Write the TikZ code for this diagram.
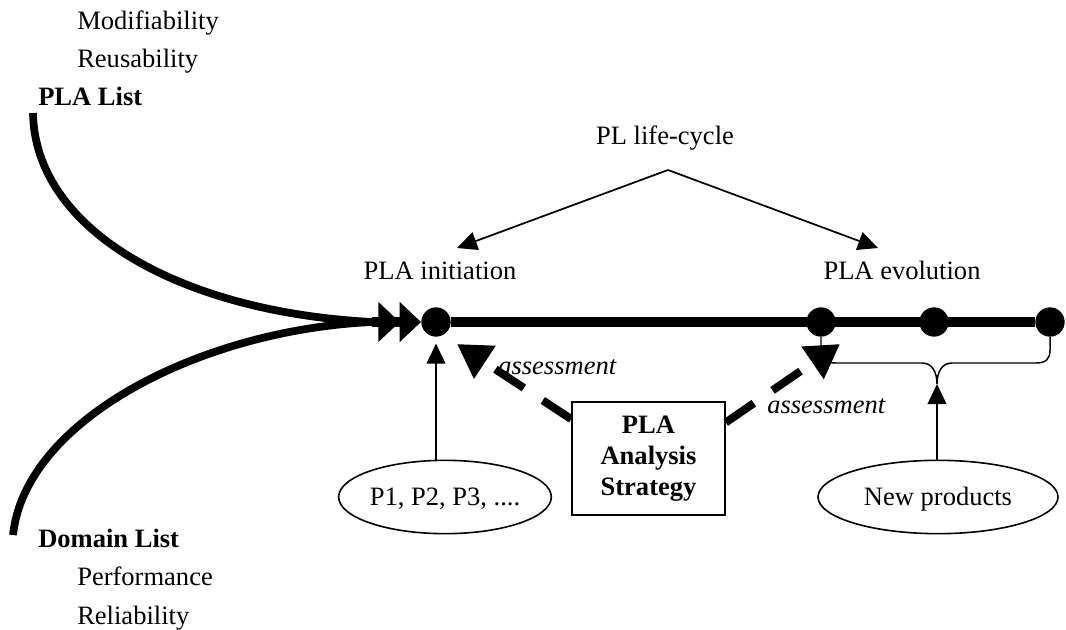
\documentclass[tikz,border=0pt]{standalone}
\usepackage{fontspec}
\setmainfont{Liberation Serif}
\usetikzlibrary{arrows.meta,shapes.geometric}

\begin{document}
\begin{tikzpicture}[x=0.75pt,y=-0.75pt,
  every node/.style={inner sep=0pt,font=\fontsize{19.9}{23.25}\selectfont},
  lbl/.style={anchor=base west},
  hd/.style={anchor=base west,font=\fontsize{19.9}{23.25}\selectfont\bfseries},
  ctr/.style={anchor=base},
  dot/.style={circle,fill,minimum size=22pt,inner sep=0pt},
  flow/.style={line width=5.8pt},
  mainline/.style={line width=7.5pt},
  thinarrow/.style={line width=1.3pt,-{Triangle[length=15pt,width=14pt]}},
  dasharrow/.style={line width=6pt,dash pattern=on 25.5pt off 17pt,
    -{Triangle[length=25pt,width=28pt]}},
  oval/.style={ellipse,draw,line width=1.2pt,minimum height=55pt,
    text height=13pt,text depth=0pt},
  bracepath/.style={line width=1.1pt},
  bigtip/.style={-{Triangle[length=16pt,width=29pt]Triangle[length=16pt,width=29pt]}}
]
\useasboundingbox (0,0) rectangle (1066,630);

% quality attribute lists
\node[lbl] (mod) at (77,30) {Modifiability};
\node[lbl] (reu) at (77,68) {Reusability};
\node[hd]  (plalist) at (38,106) {PLA List};
\node[hd]  (domlist) at (38,547) {Domain List};
\node[lbl] (perf) at (77,585) {Performance};
\node[lbl] (rel) at (77,624) {Reliability};

% time line with its milestones
\node[dot] (c1) at (436,322) {};
\node[dot] (c2) at (821,322) {};
\node[dot] (c3) at (934,322) {};
\node[dot] (c4) at (1050,322) {};
\draw[mainline] (c1) -- (c4);

% the two input streams merging into the initiation point
\coordinate (plastart) at (33,113);
\coordinate (domstart) at (13,535);
\coordinate (join) at (372,322);
\draw[flow] (plastart) .. controls (35,230) and (180,312) .. (join);
\draw[flow] (domstart) .. controls (25,420) and (200,330) .. (join);
\draw[mainline,bigtip] (join) -- (c1);

% life-cycle phases
\node[ctr] (lc) at (665,145) {PL life-cycle};
\node[ctr] (init) at (440,280) {PLA initiation};
\node[ctr] (evo) at (902,280) {PLA evolution};
\coordinate (apex) at (668,170);
\coordinate (tipi) at (457,248);
\coordinate (tipe) at (878,248);
\draw[thinarrow] (apex) -- (tipi);
\draw[thinarrow] (apex) -- (tipe);

% analysis strategy and its assessments
\node[draw,line width=1.2pt,minimum width=114.75pt,minimum height=84.75pt,
  align=center,font=\fontsize{19.9}{23.25}\selectfont\bfseries]
  (box) at (648.5,458.5) {PLA\\Analysis\\Strategy};
\coordinate (ta1) at (457,344);
\coordinate (ta2) at (840,344);
\draw[dasharrow] (box.153) -- (ta1);
\draw[dasharrow] (box.25) -- (ta2);
\node[lbl,font=\fontsize{19.9}{23.25}\selectfont\itshape] (as1) at (498,375) {assessment};
\node[lbl,font=\fontsize{19.9}{23.25}\selectfont\itshape] (as2) at (767,413) {assessment};

% product inputs
\node[oval,minimum width=157.5pt] (p) at (445,497) {P1, P2, P3, ....};
\draw[thinarrow,shorten >=5pt] (c1 |- p.north) -- (c1.south);

\node[oval,minimum width=180pt] (np) at (938,497) {New products};
\coordinate (cusp) at (937,384);
\draw[bracepath] (c2.south) -- (821,350)
  .. controls (821,359) and (826,363) .. (836,363) -- (922,363)
  .. controls (932,363) and (937,372) .. (cusp)
  .. controls (937,372) and (942,363) .. (952,363) -- (1036,363)
  .. controls (1046,363) and (1050,359) .. (1050,350) -- (c4.south);
\draw[thinarrow] (cusp |- np.north) -- (cusp);
\end{tikzpicture}
\end{document}
